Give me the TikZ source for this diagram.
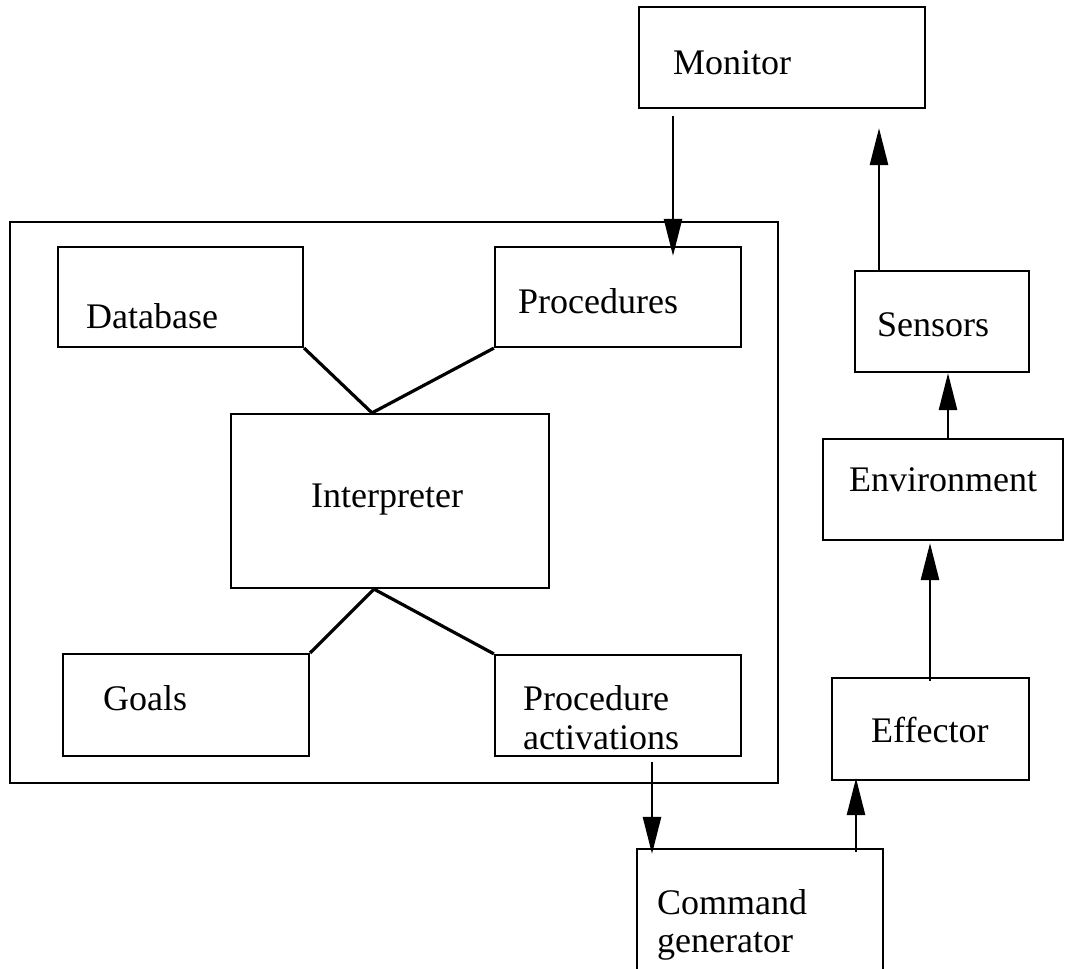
\documentclass[tikz,border=0pt]{standalone}
\usepackage{fontspec}
\setmainfont{Liberation Serif}
\usetikzlibrary{arrows.meta}
\tikzset{
  box/.style={draw, line width=2.2pt, inner sep=0pt, rectangle},
  lbl/.style={anchor=base west, inner sep=0pt, align=left,
    font=\fontsize{36}{39}\selectfont},
  link/.style={line width=3.2pt},
  flow/.style={line width=2.6pt, -{Triangle[length=37pt,width=18pt]}}
}
\begin{document}
\begin{tikzpicture}[x=1pt, y=-1pt]
\useasboundingbox (0,0) rectangle (1066,969);
\clip (0,0) rectangle (1066,969);

% agent boundary
\node[box, minimum width=768pt, minimum height=561pt] (agent) at (394,502.5) {};

% boxes
\node[box, minimum width=286pt, minimum height=101pt] (mon)    at (782,57.5)  {};
\node[box, minimum width=245pt, minimum height=100pt] (db)     at (180.5,297) {};
\node[box, minimum width=246pt, minimum height=100pt] (proc)   at (618,297)   {};
\node[box, minimum width=318pt, minimum height=174pt] (interp) at (390,501)   {};
\node[box, minimum width=246pt, minimum height=102pt] (goals)  at (186,705)   {};
\node[box, minimum width=246pt, minimum height=101pt] (pact)   at (618,705.5) {};
\node[box, minimum width=174pt, minimum height=101pt] (sens)   at (942,321.5) {};
\node[box, minimum width=240pt, minimum height=101pt] (env)    at (943,489.5) {};
\node[box, minimum width=197pt, minimum height=102pt] (eff)    at (930.5,729) {};
\node[box, minimum width=246pt, minimum height=151pt] (cmd)    at (760,924.5) {};

% labels (two-line labels are placed by their last baseline)
\node[lbl] (mon-t)    at (673,74)  {Monitor};
\node[lbl] (db-t)     at (86,328)  {Database};
\node[lbl] (proc-t)   at (518,313) {Procedures};
\node[lbl] (interp-t) at (311,507) {Interpreter};
\node[lbl] (goals-t)  at (103,710) {Goals};
\node[lbl] (pact-t)   at (523,749) {Procedure\\activations};
\node[lbl] (sens-t)   at (877,336) {Sensors};
\node[lbl] (env-t)    at (849,491) {Environment};
\node[lbl] (eff-t)    at (871,742) {Effector};
\node[lbl, font=\fontsize{36}{38}\selectfont] (cmd-t) at (657,952) {Command\\generator};

% links around the interpreter
\draw[link] (db.south east)   -- ([xshift=-18pt]interp.north);
\draw[link] (proc.south west) -- ([xshift=-18pt]interp.north);
\draw[link] ([xshift=-16pt]interp.south) -- (goals.north east);
\draw[link] ([xshift=-16pt]interp.south) -- (pact.north west);

% data flow
\draw[flow] ([xshift=-109pt, yshift=-7pt]mon.south) -- ([xshift=55pt, yshift=-10pt]proc.north);
\draw[flow] ([xshift=-63pt]sens.north) -- ([xshift=97pt, yshift=-19pt]mon.south);
\draw[flow] ([xshift=5pt]env.north) -- ([xshift=6pt]sens.south);
\draw[flow] ([xshift=-0.5pt, yshift=-4pt]eff.north) -- ([xshift=-13pt, yshift=-2pt]env.south);
\draw[flow] ([xshift=96pt, yshift=-4pt]cmd.north) -- ([xshift=-74.5pt, yshift=3pt]eff.south);
\draw[flow] ([xshift=34pt, yshift=-5pt]pact.south) -- ([xshift=-108pt, yshift=-6pt]cmd.north);
\end{tikzpicture}
\end{document}
